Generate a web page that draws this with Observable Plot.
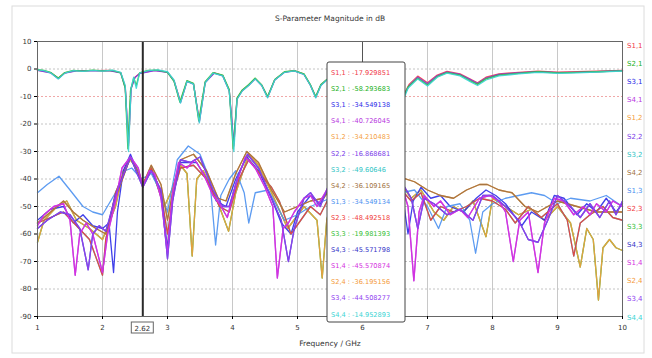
<!DOCTYPE html>
<html><head><meta charset="utf-8">
<script src="https://cdn.jsdelivr.net/npm/d3@7"></script>
<script src="https://cdn.jsdelivr.net/npm/@observablehq/plot@0.6"></script>
<style>body{margin:0;background:#fff;overflow:hidden}</style>
</head><body><div id="chart"></div>
<script>
const names = ["S1,1","S2,1","S3,1","S4,1","S1,2","S2,2","S3,2","S4,2","S1,3","S2,3","S3,3","S4,3","S1,4","S2,4","S3,4","S4,4"];
const colors = ["#f03848","#22b022","#2a2ae8","#b838e0","#f4a040","#7a3ae8","#2ec4c4","#a07040","#4a90f0","#f03a3a","#34c034","#3434c8","#d430e0","#f49a3a","#9040f0","#3ad4d4"];
const markerValues = ["-17.929851","-58.293683","-34.549138","-40.726045","-34.210483","-16.868681","-49.60646","-36.109165","-34.549134","-48.492518","-19.981393","-45.571798","-45.570874","-36.195156","-44.508277","-14.952893"];
const xTicks = [1,2,3,4,5,6,7,8,9,10];
const yTicks = [10,0,-10,-20,-30,-40,-50,-60,-70,-80,-90];
const markerFreq = 2.62;
const probeFreq = 6;

// reflections
const rS11 = [[1,-0.4],[1.2,-1.3],[1.32,-3.4],[1.42,-1.4],[1.6,-0.6],[1.85,-0.6],[2.1,-0.5],[2.28,-1.3],[2.35,-6.5],[2.4,-28],[2.44,-7],[2.5,-3],[2.57,-1.6],[2.8,-0.5],[3.0,-1.1],[3.1,-4.2],[3.2,-12],[3.3,-4.4],[3.4,-5.4],[3.49,-19],[3.58,-4.8],[3.72,-1.4],[3.85,-2.4],[3.95,-7.8],[4.02,-28],[4.07,-10.8],[4.15,-7.8],[4.25,-5.8],[4.35,-3.5],[4.45,-5.9],[4.54,-10.2],[4.65,-3.9],[4.8,-1.1],[4.95,-0.6],[5.1,-1.9],[5.2,-5.9],[5.28,-10.2],[5.36,-5.8],[5.45,-3.9],[5.7,-10],[6.0,-17.93],[6.3,-17],[6.6,-11],[6.72,-5.5],[6.85,-2.6],[7.0,-5],[7.15,-2.2],[7.3,-0.9],[7.5,-1.8],[7.65,-3.6],[7.77,-5],[7.9,-3],[8.1,-1.8],[8.4,-1.2],[8.7,-0.8],[9.0,-1.1],[9.3,-1.0],[9.6,-0.8],[10,-0.5]];
const rS22 = [[1,-0.5],[1.2,-1.4],[1.32,-3.5],[1.42,-1.5],[1.6,-0.7],[1.85,-0.7],[2.1,-0.6],[2.28,-1.4],[2.35,-6.8],[2.4,-27],[2.44,-7.2],[2.5,-3.1],[2.57,-1.7],[2.8,-0.6],[3.0,-1.2],[3.1,-4.3],[3.2,-12.2],[3.3,-4.5],[3.4,-5.5],[3.49,-19.2],[3.58,-4.9],[3.72,-1.5],[3.85,-2.5],[3.95,-7.9],[4.02,-27],[4.07,-10.9],[4.15,-7.9],[4.25,-5.9],[4.35,-3.6],[4.45,-6],[4.54,-10.3],[4.65,-4],[4.8,-1.2],[4.95,-0.7],[5.1,-2],[5.2,-6],[5.28,-10.3],[5.36,-5.9],[5.45,-4],[5.7,-9],[6.0,-16.87],[6.3,-16.5],[6.6,-11.5],[6.72,-6],[6.85,-3],[7.0,-5.4],[7.15,-2.5],[7.3,-1.1],[7.5,-2],[7.65,-3.8],[7.77,-5.3],[7.9,-3.3],[8.1,-2],[8.4,-1.4],[8.7,-1.0],[9.0,-1.3],[9.3,-1.2],[9.6,-1.0],[10,-0.6]];
const rS33 = [[1,-0.2],[1.1,-0.5],[1.2,-1.2],[1.32,-3.3],[1.42,-1.3],[1.55,-0.5],[1.7,-0.8],[1.85,-0.4],[2.0,-0.7],[2.15,-0.5],[2.28,-1.4],[2.35,-7],[2.39,-29],[2.43,-8],[2.48,-3.2],[2.52,-6],[2.57,-1.4],[2.7,-0.5],[2.85,-0.4],[3.0,-1.2],[3.1,-4.5],[3.19,-12],[3.3,-4.2],[3.4,-5.2],[3.48,-18.8],[3.58,-4.6],[3.7,-1.3],[3.85,-2.2],[3.95,-7.5],[4.01,-29],[4.07,-10.5],[4.15,-7.6],[4.25,-5.6],[4.35,-3.3],[4.45,-5.8],[4.54,-10],[4.65,-3.8],[4.8,-1.0],[4.95,-0.6],[5.1,-1.8],[5.2,-5.8],[5.28,-10],[5.36,-5.6],[5.45,-3.8],[5.6,-8],[5.8,-15],[6.0,-19.98],[6.2,-18],[6.45,-16],[6.6,-12],[6.7,-6.5],[6.85,-3.4],[7.0,-5.8],[7.15,-2.8],[7.3,-1.3],[7.5,-2.2],[7.65,-4.2],[7.77,-5.6],[7.9,-3.6],[8.1,-2.2],[8.4,-1.6],[8.7,-1.0],[9.0,-1.4],[9.3,-1.2],[9.6,-1.0],[10,-0.7]];
const rS44 = [[1,-0.3],[1.1,-0.6],[1.2,-1.4],[1.32,-3.6],[1.42,-1.5],[1.55,-0.6],[1.7,-0.9],[1.85,-0.5],[2.0,-0.8],[2.15,-0.4],[2.28,-1.2],[2.35,-6],[2.4,-30],[2.44,-7],[2.48,-3],[2.52,-7],[2.57,-1.5],[2.7,-0.6],[2.85,-0.3],[3.0,-1],[3.1,-4],[3.2,-12.4],[3.3,-4.5],[3.4,-5.5],[3.49,-19.6],[3.58,-5],[3.7,-1.5],[3.85,-2.5],[3.95,-8],[4.02,-30],[4.07,-11],[4.15,-8],[4.25,-6],[4.35,-3.6],[4.45,-6],[4.54,-10.5],[4.65,-4],[4.8,-1.2],[4.95,-0.7],[5.1,-2],[5.2,-6],[5.28,-10.5],[5.36,-6],[5.45,-4],[5.6,-7],[5.8,-12],[6.0,-14.95],[6.2,-16],[6.45,-17],[6.6,-13],[6.7,-7],[6.85,-3.6],[7.0,-6.2],[7.15,-3],[7.3,-1.5],[7.5,-2.5],[7.65,-4.5],[7.77,-6],[7.9,-4],[8.1,-2.5],[8.4,-1.8],[8.7,-1.2],[9.0,-1.6],[9.3,-1.4],[9.6,-1.1],[10,-0.8]];

// transmissions
const tOrange = [[1,-63],[1.1,-55],[1.3,-50],[1.45,-48],[1.6,-55],[1.8,-58],[2.0,-62],[2.2,-50],[2.32,-37],[2.43,-33],[2.55,-37],[2.62,-42],[2.75,-36],[2.95,-50],[3.05,-45],[3.2,-35],[3.3,-38],[3.38,-68],[3.45,-40],[3.55,-37],[3.75,-47],[3.94,-59],[4.05,-45],[4.25,-31],[4.4,-35],[4.6,-45],[4.85,-58],[5.1,-50],[5.3,-55],[5.38,-76],[5.45,-55],[5.55,-45],[6.0,-34.2],[6.6,-42],[6.75,-47],[6.9,-44],[7.1,-52],[7.25,-55],[7.4,-50],[7.55,-52],[7.7,-48],[7.9,-61],[8.0,-47],[8.2,-50],[8.4,-53],[8.6,-51],[8.8,-55],[9.0,-50],[9.2,-56],[9.35,-72],[9.45,-58],[9.55,-62],[9.63,-84],[9.7,-65],[9.8,-62],[9.9,-65],[10,-66]];
const tSky = [[1,-45],[1.15,-42],[1.33,-39],[1.5,-44],[1.7,-50],[1.85,-52],[2.0,-53],[2.2,-45],[2.35,-37],[2.45,-36],[2.6,-40],[2.75,-38],[2.9,-45],[3.0,-52],[3.15,-33],[3.32,-28],[3.5,-31],[3.65,-40],[3.74,-64],[3.82,-46],[3.95,-40],[4.05,-37],[4.18,-45],[4.25,-56],[4.35,-45],[4.55,-44],[4.8,-55],[5.0,-53],[5.2,-50],[5.5,-47],[6.0,-34.55],[6.6,-45],[6.8,-44],[7.0,-50],[7.17,-58],[7.3,-50],[7.5,-49],[7.65,-55],[7.74,-67],[7.85,-52],[8.0,-49],[8.2,-47],[8.4,-46],[8.6,-45],[8.8,-46],[9.0,-49],[9.2,-47],[9.5,-48],[9.75,-46],[10,-50]];
const tBlue = [[1,-55],[1.2,-51],[1.4,-50],[1.55,-56],[1.7,-53],[1.85,-57],[2.0,-58],[2.1,-56],[2.17,-74],[2.23,-52],[2.32,-37],[2.43,-31],[2.62,-42],[2.75,-36],[2.9,-46],[3.0,-65],[3.1,-42],[3.2,-34],[3.45,-34],[3.6,-40],[3.75,-48],[3.9,-50],[4.05,-40],[4.22,-32],[4.4,-37],[4.6,-47],[4.75,-56],[4.9,-60],[5.0,-52],[5.2,-46],[5.35,-49],[5.55,-40],[6.0,-34.55],[6.6,-43],[6.7,-60],[6.78,-48],[6.9,-43],[7.05,-47],[7.2,-46],[7.35,-50],[7.55,-52],[7.75,-47],[7.9,-44],[8.05,-46],[8.2,-49],[8.45,-57],[8.6,-52],[8.8,-55],[8.95,-46],[9.1,-47],[9.3,-53],[9.45,-49],[9.6,-52],[9.75,-47],[9.9,-52],[10,-49]];
const tMagenta = [[1,-57],[1.1,-53],[1.25,-50],[1.4,-49],[1.5,-55],[1.58,-75],[1.65,-60],[1.75,-56],[1.85,-60],[2.0,-74],[2.08,-60],[2.2,-48],[2.3,-36],[2.43,-32],[2.55,-36],[2.62,-43],[2.72,-37],[2.8,-38],[2.9,-47],[3.0,-67],[3.08,-45],[3.17,-34],[3.3,-36],[3.42,-33],[3.55,-38],[3.7,-46],[3.8,-49],[3.92,-54],[4.05,-42],[4.2,-32],[4.35,-36],[4.5,-43],[4.62,-50],[4.69,-76],[4.78,-58],[4.86,-56],[4.95,-52],[5.1,-47],[5.2,-46],[5.3,-50],[5.45,-44],[5.55,-42],[6.0,-45.57],[6.6,-42],[6.7,-50],[6.79,-77],[6.87,-52],[6.95,-46],[7.1,-50],[7.2,-48],[7.35,-53],[7.5,-51],[7.62,-54],[7.8,-47],[7.95,-46],[8.1,-48],[8.2,-52],[8.32,-70],[8.42,-55],[8.55,-52],[8.7,-74],[8.8,-56],[8.95,-47],[9.1,-48],[9.25,-53],[9.4,-50],[9.5,-53],[9.6,-49],[9.75,-52],[9.85,-48],[10,-50]];
const tRed = [[1,-56],[1.2,-54],[1.4,-52],[1.6,-57],[1.8,-62],[2.0,-75],[2.05,-62],[2.2,-45],[2.43,-32],[2.62,-42],[2.75,-36],[2.9,-45],[3.0,-60],[3.1,-44],[3.2,-36],[3.4,-35],[3.6,-40],[3.8,-50],[3.95,-52],[4.1,-40],[4.25,-33],[4.45,-39],[4.6,-43],[4.72,-48],[4.9,-60],[5.05,-55],[5.2,-50],[5.35,-53],[5.5,-46],[6.0,-48.49],[6.6,-44],[6.75,-48],[6.9,-45],[7.05,-55],[7.2,-50],[7.4,-52],[7.6,-50],[7.8,-47],[8.0,-48],[8.2,-51],[8.35,-56],[8.55,-50],[8.75,-54],[9.0,-49],[9.15,-55],[9.25,-68],[9.35,-56],[9.5,-53],[9.7,-50],[9.85,-54],[10,-55]];
const tBrown = [[1,-56],[1.2,-52],[1.4,-48],[1.55,-52],[1.7,-55],[1.9,-58],[2.05,-60],[2.2,-47],[2.43,-32],[2.62,-42],[2.75,-35],[2.9,-42],[3.0,-55],[3.1,-42],[3.2,-33],[3.4,-31],[3.6,-37],[3.78,-47],[3.9,-48],[4.05,-38],[4.22,-30],[4.4,-34],[4.6,-44],[4.8,-52],[5.0,-50],[5.2,-48],[5.4,-47],[5.55,-42],[6.0,-36.11],[6.6,-39.5],[6.8,-41],[7.0,-44],[7.2,-46],[7.4,-47],[7.6,-44],[7.8,-42],[7.92,-42],[8.1,-44],[8.3,-45],[8.5,-50],[8.7,-52],[9.0,-48],[9.3,-50],[9.6,-52],[10,-52]];
const tPurple = [[1,-58],[1.15,-55],[1.35,-52],[1.5,-53],[1.65,-58],[1.78,-73],[1.85,-60],[1.95,-57],[2.05,-59],[2.1,-55],[2.2,-46],[2.43,-32],[2.62,-43],[2.75,-37],[2.9,-44],[3.0,-69],[3.08,-48],[3.2,-33],[3.35,-34],[3.5,-32],[3.7,-44],[3.85,-50],[3.95,-50],[4.1,-38],[4.23,-31],[4.4,-36],[4.6,-47],[4.75,-55],[4.86,-70],[4.95,-58],[5.1,-47],[5.2,-45],[5.35,-50],[5.5,-41],[6.0,-44.51],[6.6,-41],[6.75,-47],[6.85,-58],[6.95,-47],[7.1,-49],[7.3,-53],[7.5,-51],[7.7,-55],[7.85,-46],[8.0,-46],[8.2,-50],[8.4,-55],[8.55,-62],[8.7,-63],[8.85,-55],[9.0,-46],[9.2,-50],[9.35,-54],[9.5,-49],[9.65,-54],[9.8,-48],[9.9,-53],[10,-48]];

// draw order: [series name, data]
const drawOrder = [
  ["S2,1", tOrange], ["S1,2", tOrange],
  ["S3,1", tBlue], ["S1,3", tSky],
  ["S3,2", tRed], ["S2,3", tRed],
  ["S2,4", tBrown], ["S4,2", tBrown],
  ["S4,3", tPurple], ["S4,1", tMagenta], ["S1,4", tMagenta], ["S3,4", tPurple],
  ["S1,1", rS11], ["S2,2", rS22], ["S3,3", rS33], ["S4,4", rS44]
];
const rows = drawOrder.flatMap(([s, arr]) => arr.map(([f, db]) => ({s, f, db})));
const gridDb = yTicks.filter(d => d !== 10 && d !== -90);

const FONT = "DejaVu Sans, Verdana, sans-serif";
const plot = Plot.plot({
  width: 652, height: 358,
  marginLeft: 37, marginRight: 30, marginTop: 41, marginBottom: 42,
  style: {fontFamily: FONT, background: "#fff"},
  x: {domain: [1, 10]},
  y: {domain: [-90, 10]},
  color: {domain: names, range: colors},
  marks: [
    Plot.ruleX(xTicks.slice(1, -1), {stroke: "#c8c8c8", strokeWidth: 1}),
    Plot.ruleY(gridDb, {stroke: d => d === -10 ? "#f0a8a8" : "#c4c4c4", strokeDasharray: "2,2", strokeWidth: 1}),
    Plot.line(rows, {x: "f", y: "db", z: "s", stroke: "s", strokeWidth: 1.3, strokeOpacity: 0.9, curve: "linear"}),
    Plot.ruleX([markerFreq], {stroke: "#2a2a2a", strokeWidth: 2}),
    Plot.ruleX([probeFreq], {stroke: "#555", strokeWidth: 1}),
    Plot.frame({stroke: "#666", strokeWidth: 1}),
    Plot.axisX({ticks: xTicks, tickSize: 3, tickPadding: 6, tickFormat: d => String(d), fontSize: 7, fill: "#333", label: null}),
    Plot.axisY({ticks: yTicks, tickSize: 3, tickPadding: 3, tickFormat: d => String(d), fontSize: 7, fill: "#333", label: null})
  ]
});
document.getElementById("chart").appendChild(plot);

const svg = d3.select(plot);
const sx = plot.scale("x");
// outer panel
svg.insert("rect", ":first-child").attr("x", 12).attr("y", 6).attr("width", 632).attr("height", 347)
  .attr("fill", "#fff").attr("stroke", "#dcdcdc");
svg.append("text").attr("x", 330).attr("y", 21).attr("text-anchor", "middle")
  .attr("font-family", FONT).attr("font-size", 7.5).attr("fill", "#333").text("S-Parameter Magnitude in dB");
svg.append("text").attr("x", 330).attr("y", 346).attr("text-anchor", "middle")
  .attr("font-family", FONT).attr("font-size", 7.5).attr("fill", "#333").text("Frequency / GHz");
// right legend
names.forEach((n, i) => {
  svg.append("text").attr("x", 627).attr("y", 48 + i * 18.1).attr("text-anchor", "start")
    .attr("font-family", FONT).attr("font-size", 7).attr("fill", colors[i]).text(n);
});
// marker label
const mx = sx.apply(markerFreq);
svg.append("rect").attr("x", mx - 11).attr("y", 322).attr("width", 22).attr("height", 11)
  .attr("fill", "#fff").attr("stroke", "#666");
svg.append("text").attr("x", mx).attr("y", 330.5).attr("text-anchor", "middle")
  .attr("font-family", FONT).attr("font-size", 7).attr("fill", "#333").text(String(markerFreq));
// probe box
const px = sx.apply(probeFreq);
svg.append("rect").attr("x", px - 35).attr("y", 62).attr("width", 78).attr("height", 260).attr("rx", 2)
  .attr("fill", "#fff").attr("stroke", "#444").attr("stroke-width", 1);
names.forEach((n, i) => {
  svg.append("text").attr("x", px - 31).attr("y", 75 + i * 16.1).attr("text-anchor", "start")
    .attr("font-family", FONT).attr("font-size", 6.6).attr("fill", colors[i])
    .text(n + " : " + markerValues[i]);
});
</script>
</body></html>
